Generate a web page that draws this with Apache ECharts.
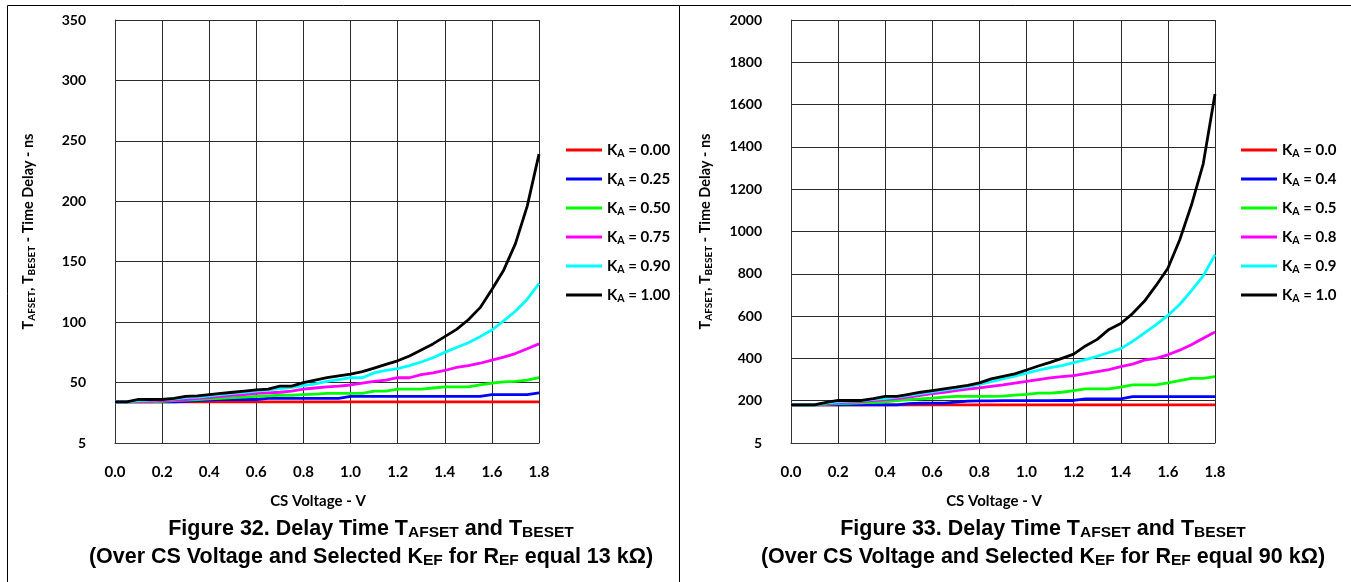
<!DOCTYPE html>
<html>
<head>
<meta charset="utf-8">
<title>Delay Time TAFSET and TBESET</title>
<script src="https://cdn.jsdelivr.net/npm/echarts@6/dist/echarts.min.js"></script>
<style>
  html, body { margin: 0; padding: 0; background: #fff; }
  #chart { width: 1351px; height: 582px; }
</style>
</head>
<body>
<div id="chart"></div>
<script>
// CS voltage (V), shared by both figures
const csVoltage = [0, 0.05, 0.1, 0.15, 0.2, 0.25, 0.3, 0.35, 0.4, 0.45, 0.5, 0.55, 0.6, 0.65, 0.7, 0.75, 0.8, 0.85, 0.9,
  0.95, 1.0, 1.05, 1.1, 1.15, 1.2, 1.25, 1.3, 1.35, 1.4, 1.45, 1.5, 1.55, 1.6, 1.65, 1.7, 1.75, 1.8]

// Figure 32 - REF = 13 kOhm, delay in ns
const kaLabels13k = ['0.00', '0.25', '0.50', '0.75', '0.90', '1.00']
const ka000_13k = [34, 34, 34, 34, 34, 34, 34, 34, 34, 34, 34, 34, 34, 34, 34, 34, 34, 34, 34, 34, 34, 34, 34, 34, 34, 34,
  34, 34, 34, 34, 34, 34, 34, 34, 34, 34, 34]
const ka025_13k = [34, 34, 34, 34, 34, 34, 34.5, 35, 35.5, 36, 36, 36, 36, 37, 37, 37, 37, 37, 37, 37, 38.5, 38.5, 38.5,
  38.5, 38.5, 38.5, 38.5, 38.5, 38.5, 38.5, 38.5, 38.5, 40, 40, 40, 40, 41.5]
const ka050_13k = [34, 34, 34, 34, 34.5, 35, 35.5, 36, 36.5, 37, 37.5, 38, 38.5, 39, 39.5, 39.5, 40, 40.5, 41, 41, 41, 41,
  43, 43, 44.5, 44.5, 44.5, 45.5, 46.5, 46.5, 46.5, 48, 49.5, 50.5, 51, 52, 54]
const ka075_13k = [34, 34, 34.5, 34.5, 35, 35.5, 36, 37, 37.5, 38.5, 39.5, 40, 41, 41.5, 42, 43, 44.5, 45.5, 46.5, 47, 48,
  49.5, 51, 52, 54, 54, 56.5, 58, 60, 62.5, 64, 66, 68.5, 71, 74, 78, 82]
const ka090_13k = [34, 34, 35, 35.5, 36, 36.5, 37.5, 38, 39, 40, 41, 42, 43, 44, 45, 46, 47.5, 49, 51, 52.5, 54, 54, 58, 60,
  61.5, 64, 67, 70.5, 75, 79, 83, 88, 93.5, 101, 109, 119, 132]
const ka100_13k = [34, 34, 36, 36, 36, 37, 38.5, 39, 40, 41, 42, 43, 44, 44.5, 47, 47, 50, 52, 54, 55.5, 57, 59, 62, 65, 68,
  72, 77, 82, 88, 94, 102, 112, 127, 143, 165, 196, 239]

// Figure 33 - REF = 90 kOhm, delay in ns
const kaLabels90k = ['0.0', '0.4', '0.5', '0.8', '0.9', '1.0']
const ka00_90k = [180, 180, 180, 180, 180, 180, 180, 180, 180, 180, 180, 180, 180, 180, 180, 180, 180, 180, 180, 180, 180,
  180, 180, 180, 180, 180, 180, 180, 180, 180, 180, 180, 180, 180, 180, 180, 180]
const ka04_90k = [180, 180, 180, 180, 180, 180, 180, 180, 180, 180, 186, 188, 189, 189, 193, 198, 199, 199, 200, 200, 200,
  200, 200, 201, 201, 209, 209, 209, 209, 219, 219, 219, 219, 219, 219, 219, 219]
const ka05_90k = [180, 180, 180, 183, 186, 188, 190, 192, 194, 200, 205, 209, 212, 217, 220, 220, 220, 220, 222, 226, 230,
  236, 236, 240, 248, 256, 256, 256, 264, 275, 275, 275, 284, 295, 306, 306, 314]
const ka08_90k = [180, 180, 182, 186, 190, 193, 196, 201, 205, 210, 217, 225, 233, 240, 248, 255, 261, 268, 275, 283, 291,
  300, 308, 314, 319, 328, 337, 347, 361, 373, 392, 400, 417, 439, 465, 495, 525]
const ka09_90k = [180, 180, 180, 190, 194, 198, 200, 206, 211, 217, 225, 234, 242, 250, 258, 266, 277, 290, 303, 316, 330,
  344, 356, 366, 380, 394, 410, 428, 446, 480, 520, 560, 603, 655, 720, 790, 890]
const ka10_90k = [180, 180, 180, 192, 201, 201, 201, 210, 220, 220, 230, 240, 248, 256, 264, 273, 284, 303, 315, 327, 345,
  364, 381, 400, 420, 459, 490, 537, 565, 612, 670, 745, 826, 960, 1125, 1320, 1650]

const lineColors = ['#ff0000', '#0000ff', '#00ff00', '#ff00ff', '#00ffff', '#000000']

const tickFont = { color: '#000', fontFamily: 'Lato', fontWeight: 'bold', fontSize: 14 }
// subscripts: padding on top pushes the small text down inside the line box
const nameRich = {
  k: { color: '#000', fontFamily: 'Lato', fontWeight: 'bold', fontSize: 14.5, lineHeight: 18 },
  s: { color: '#000', fontFamily: 'Lato', fontWeight: 'bold', fontSize: 10, lineHeight: 11, padding: [7, 0, 0, 0] }
}
const legRich = {
  k: { color: '#000', fontFamily: 'Lato', fontWeight: 'bold', fontSize: 15, lineHeight: 18 },
  s: { color: '#000', fontFamily: 'Lato', fontWeight: 'bold', fontSize: 10.5, lineHeight: 11, padding: [7, 0, 0, 0] }
}
const capRich = {
  m: { fill: '#000', fontFamily: 'Liberation Sans', fontWeight: 'bold', fontSize: 21.5, lineHeight: 24 },
  s: { fill: '#000', fontFamily: 'Liberation Sans', fontWeight: 'bold', fontSize: 15.5, lineHeight: 16, padding: [8, 0, 0, 0] }
}

const chart = echarts.init(document.getElementById('chart'))

const makeSeries = (sets, labels, axisIdx) => sets.map((vals, i) => ({
  name: 'KA = ' + labels[i],
  type: 'line',
  xAxisIndex: axisIdx,
  yAxisIndex: axisIdx,
  symbol: 'none',
  data: vals.map((v, j) => [csVoltage[j], v]),
  itemStyle: { color: lineColors[i] },
  lineStyle: { color: lineColors[i], width: 2.8 }
}))

const xAxisDef = (gridIdx) => ({
  type: 'value',
  gridIndex: gridIdx,
  min: 0,
  max: 1.8,
  interval: 0.2,
  name: 'CS Voltage - V',
  nameLocation: 'middle',
  nameGap: 51,
  nameTextStyle: { color: '#000', fontFamily: 'Lato', fontWeight: 'bold', fontSize: 15, padding: [0, 18, 0, 0] },
  axisLine: { lineStyle: { color: '#333', width: 1 } },
  axisTick: { show: false },
  axisLabel: { ...tickFont, fontSize: 15, margin: 22, formatter: (v) => v.toFixed(1) },
  splitLine: { lineStyle: { color: '#2b2b2b', width: 1 } }
})

const yAxisDef = (gridIdx, max, step, gap) => ({
  type: 'value',
  gridIndex: gridIdx,
  min: 0,
  max: max,
  interval: step,
  name: '{k|T}{s|AFSET}{k|, T}{s|BESET}{k| - Time Delay - ns}',
  nameLocation: 'middle',
  nameRotate: 90,
  nameGap: gap,
  nameTextStyle: { rich: nameRich },
  axisLine: { show: true, lineStyle: { color: '#333', width: 1 } },
  axisTick: { show: false },
  // the bottom tick is printed as "5" in the datasheet
  axisLabel: { ...tickFont, margin: 29, formatter: (v) => (v === 0 ? '5' : String(v)) },
  splitLine: { lineStyle: { color: '#2b2b2b', width: 1 } }
})

const legendDef = (labels, left) => ({
  orient: 'vertical',
  left: left,
  top: 136,
  icon: 'rect',
  itemWidth: 36,
  itemHeight: 3,
  itemGap: 11,
  data: labels.map((l) => 'KA = ' + l),
  formatter: (name) => '{k|K}{s|A}{k| = ' + name.split('= ')[1] + '}',
  textStyle: { rich: legRich }
})

const caption = (x, fig, ref) => [
  {
    type: 'text', x: x, y: 529,
    style: {
      text: '{m|Figure ' + fig + '. Delay Time T}{s|AFSET}{m| and T}{s|BESET}',
      rich: capRich, align: 'center', verticalAlign: 'middle'
    }
  },
  {
    type: 'text', x: x, y: 557,
    style: {
      text: '{m|(Over CS Voltage and Selected K}{s|EF}{m| for R}{s|EF}{m| equal ' + ref + ' k\u03a9)}',
      rich: capRich, align: 'center', verticalAlign: 'middle'
    }
  }
]

const option = {
  animation: false,
  backgroundColor: '#fff',
  grid: [
    { left: 115, top: 20, width: 424, height: 423 },
    { left: 791, top: 20, width: 424, height: 423 }
  ],
  xAxis: [xAxisDef(0), xAxisDef(1)],
  yAxis: [yAxisDef(0, 350, 50, 78), yAxisDef(1, 2000, 200, 77)],
  legend: [legendDef(kaLabels13k, 561), legendDef(kaLabels90k, 1236)],
  graphic: [
    { type: 'line', shape: { x1: 7.5, y1: 5.5, x2: 1351, y2: 5.5 }, style: { stroke: '#000', lineWidth: 1 } },
    { type: 'line', shape: { x1: 7.5, y1: 5.5, x2: 7.5, y2: 582 }, style: { stroke: '#000', lineWidth: 1 } },
    { type: 'line', shape: { x1: 679.5, y1: 5.5, x2: 679.5, y2: 582 }, style: { stroke: '#000', lineWidth: 1 } },
    ...caption(371, 32, 13),
    ...caption(1043, 33, 90)
  ],
  series: [
    ...makeSeries([ka000_13k, ka025_13k, ka050_13k, ka075_13k, ka090_13k, ka100_13k], kaLabels13k, 0),
    ...makeSeries([ka00_90k, ka04_90k, ka05_90k, ka08_90k, ka09_90k, ka10_90k], kaLabels90k, 1)
  ]
}

chart.setOption(option)
</script>
</body>
</html>
